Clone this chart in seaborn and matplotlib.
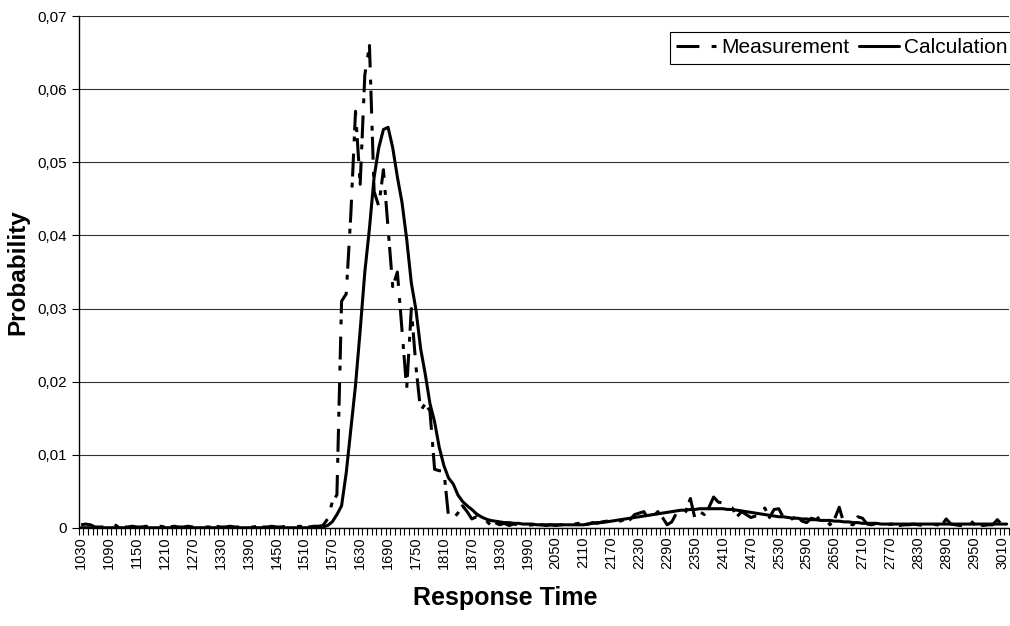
import matplotlib
matplotlib.use('Agg')
import matplotlib.pyplot as plt
from matplotlib.ticker import FixedLocator, FuncFormatter
import seaborn as sns
import pandas as pd

# response time categories (step 10)
response_time = list(range(1030, 3030, 10))

# measured probability, one row per 100 time units
measurement = [
    0.0004, 0.0005, 0.0004, 0.0001, 0.0001, 0.0001, 0.0001, 0.0005, 0.0001, 0.0001,  # 1030
    0.0001, 0.0002, 0.0001, 0.0001, 0.0002, 0.0001, 0.0001, 0.0002, 0.0001, 0.0001,  # 1130
    0.0002, 0.0001, 0.0001, 0.0002, 0.0001, 0.0001, 0.0002, 0.0001, 0.0001, 0.0002,  # 1230
    0.0001, 0.0001, 0.0002, 0.0001, 0.0001, 0.0002, 0.0001, 0.0001, 0.0002, 0.0001,  # 1330
    0.0001, 0.0002, 0.0001, 0.0001, 0.0002, 0.0001, 0.0001, 0.0002, 0.0001, 0.0001,  # 1430
    0.0002, 0.0002, 0.0003, 0.0012, 0.0035, 0.0045, 0.0310, 0.0320, 0.0430, 0.0570,  # 1530
    0.0470, 0.0620, 0.0660, 0.0460, 0.0440, 0.0490, 0.0410, 0.0330, 0.0350, 0.0270,  # 1630
    0.0190, 0.0300, 0.0220, 0.0160, 0.0170, 0.0160, 0.0080, 0.0078, 0.0078, 0.0015,  # 1730
    0.0012, 0.0020, 0.0030, 0.0022, 0.0012, 0.0015, 0.0008, 0.0010, 0.0004, 0.0007,  # 1830
    0.0004, 0.0006, 0.0003, 0.0005, 0.0004, 0.0004, 0.0003, 0.0004, 0.0003, 0.0004,  # 1930
    0.0003, 0.0004, 0.0003, 0.0004, 0.0004, 0.0003, 0.0005, 0.0006, 0.0004, 0.0005,  # 2030
    0.0007, 0.0006, 0.0008, 0.0009, 0.0008, 0.0011, 0.0009, 0.0012, 0.0011, 0.0018,  # 2130
    0.0020, 0.0022, 0.0011, 0.0015, 0.0022, 0.0014, 0.0004, 0.0008, 0.0020, 0.0016,  # 2230
    0.0022, 0.0040, 0.0012, 0.0022, 0.0018, 0.0028, 0.0042, 0.0035, 0.0034, 0.0028,  # 2330
    0.0027, 0.0015, 0.0022, 0.0018, 0.0014, 0.0016, 0.0015, 0.0027, 0.0014, 0.0025,  # 2430
    0.0026, 0.0014, 0.0008, 0.0013, 0.0015, 0.0009, 0.0007, 0.0013, 0.0011, 0.0016,  # 2530
    0.0013, 0.0004, 0.0012, 0.0028, 0.0006, 0.0005, 0.0004, 0.0015, 0.0013, 0.0005,  # 2630
    0.0004, 0.0006, 0.0004, 0.0003, 0.0005, 0.0004, 0.0003, 0.0004, 0.0004, 0.0005,  # 2730
    0.0004, 0.0003, 0.0004, 0.0005, 0.0004, 0.0003, 0.0012, 0.0005, 0.0004, 0.0003,  # 2830
    0.0004, 0.0011, 0.0005, 0.0004, 0.0003, 0.0004, 0.0004, 0.0011, 0.0004, 0.0006,  # 2930
]

# calculated probability
calculation = [
    0.0000, 0.0000, 0.0000, 0.0000, 0.0000, 0.0000, 0.0000, 0.0000, 0.0000, 0.0000,  # 1030
    0.0000, 0.0000, 0.0000, 0.0000, 0.0000, 0.0000, 0.0000, 0.0000, 0.0000, 0.0000,  # 1130
    0.0000, 0.0000, 0.0000, 0.0000, 0.0000, 0.0000, 0.0000, 0.0000, 0.0000, 0.0000,  # 1230
    0.0000, 0.0000, 0.0000, 0.0000, 0.0000, 0.0000, 0.0000, 0.0000, 0.0000, 0.0000,  # 1330
    0.0000, 0.0000, 0.0000, 0.0000, 0.0000, 0.0000, 0.0000, 0.0000, 0.0000, 0.0000,  # 1430
    0.0000, 0.0001, 0.0001, 0.0003, 0.0008, 0.0018, 0.0030, 0.0075, 0.0135, 0.0195,  # 1530
    0.0270, 0.0350, 0.0410, 0.0480, 0.0520, 0.0545, 0.0548, 0.0520, 0.0480, 0.0445,  # 1630
    0.0395, 0.0335, 0.0298, 0.0245, 0.0210, 0.0170, 0.0145, 0.0110, 0.0085, 0.0068,  # 1730
    0.0060, 0.0045, 0.0036, 0.0030, 0.0025, 0.0019, 0.0015, 0.0012, 0.0010, 0.0009,  # 1830
    0.0008, 0.0007, 0.0007, 0.0006, 0.0006, 0.0005, 0.0005, 0.0005, 0.0004, 0.0004,  # 1930
    0.0004, 0.0004, 0.0004, 0.0004, 0.0004, 0.0004, 0.0004, 0.0004, 0.0004, 0.0005,  # 2030
    0.0006, 0.0007, 0.0007, 0.0008, 0.0009, 0.0010, 0.0011, 0.0012, 0.0013, 0.0014,  # 2130
    0.0015, 0.0016, 0.0017, 0.0018, 0.0019, 0.0020, 0.0021, 0.0022, 0.0023, 0.0024,  # 2230
    0.0024, 0.0025, 0.0025, 0.0026, 0.0026, 0.0026, 0.0026, 0.0026, 0.0026, 0.0025,  # 2330
    0.0025, 0.0024, 0.0023, 0.0022, 0.0021, 0.0020, 0.0019, 0.0018, 0.0017, 0.0016,  # 2430
    0.0015, 0.0015, 0.0014, 0.0013, 0.0013, 0.0012, 0.0012, 0.0011, 0.0011, 0.0010,  # 2530
    0.0010, 0.0010, 0.0009, 0.0009, 0.0008, 0.0008, 0.0007, 0.0007, 0.0006, 0.0006,  # 2630
    0.0006, 0.0006, 0.0005, 0.0005, 0.0005, 0.0005, 0.0005, 0.0005, 0.0005, 0.0005,  # 2730
    0.0005, 0.0005, 0.0005, 0.0005, 0.0005, 0.0005, 0.0005, 0.0005, 0.0005, 0.0005,  # 2830
    0.0005, 0.0005, 0.0005, 0.0005, 0.0005, 0.0005, 0.0005, 0.0005, 0.0005, 0.0005,  # 2930
]

label_every = 6  # one label every 6 categories

df = pd.DataFrame({'time': response_time, 'Measurement': measurement,
                   'Calculation': calculation})

sns.set_theme(style='white')
plt.rcParams['font.family'] = ['Liberation Sans', 'DejaVu Sans']
plt.rcParams['text.color'] = 'black'
plt.rcParams['xtick.color'] = 'black'
plt.rcParams['ytick.color'] = 'black'
plt.rcParams['axes.labelcolor'] = 'black'

fig, ax = plt.subplots(figsize=(10.1, 6.26), dpi=100)
fig.subplots_adjust(left=0.078, right=0.999, top=0.974, bottom=0.157)

sns.lineplot(data=df, x='time', y='Measurement', ax=ax, color='black', lw=2.2,
             linestyle=(0, (7.5, 4, 1.6, 2)), label='Measurement')
sns.lineplot(data=df, x='time', y='Calculation', ax=ax, color='black', lw=2.2,
             label='Calculation')

ax.set_xlim(response_time[0] - 5, response_time[-1] + 5)
ax.set_ylim(0, 0.07)

# horizontal grid
ax.yaxis.set_major_locator(FixedLocator([i / 100 for i in range(8)]))
ax.yaxis.set_major_formatter(FuncFormatter(
    lambda v, p: '0' if v == 0 else f'{v:.2f}'.replace('.', ',')))
ax.grid(axis='y', color='#333333', lw=0.8)
ax.grid(axis='x', visible=False)

# category axis: labels every 6th, tick marks at every boundary
ax.set_xticks(response_time[::label_every])
ax.set_xticklabels([str(t) for t in response_time[::label_every]], rotation=90)
ax.xaxis.set_minor_locator(FixedLocator([t - 5 for t in response_time] + [response_time[-1] + 5]))
ax.tick_params(axis='x', which='major', length=0, labelsize=10.5, pad=6)
ax.tick_params(axis='x', which='minor', length=5, width=0.8, color='black', bottom=True)
ax.tick_params(axis='y', length=5, width=0.8, color='black', left=True, labelsize=11)

for s in ['top', 'right']:
    ax.spines[s].set_visible(False)
for s in ['left', 'bottom']:
    ax.spines[s].set_color('black')
    ax.spines[s].set_linewidth(1)

ax.set_xlabel('')
fig.text(505 / 1010, 1 - 598 / 626, 'Response Time', fontsize=18, fontweight='bold',
         ha='center', va='center')
ax.set_ylabel('Probability', fontsize=17.5, fontweight='bold', labelpad=6)

leg = ax.legend(loc='upper right', bbox_to_anchor=(1.004, 1 - 32 / 626),
                bbox_transform=fig.transFigure, ncol=2, fontsize=15,
                frameon=True, fancybox=False, edgecolor='black', framealpha=1,
                handlelength=1.9, handletextpad=0.25, columnspacing=0.5,
                borderpad=0.3, borderaxespad=0)
leg.get_frame().set_linewidth(0.8)

plt.savefig('out.png', dpi=100)
